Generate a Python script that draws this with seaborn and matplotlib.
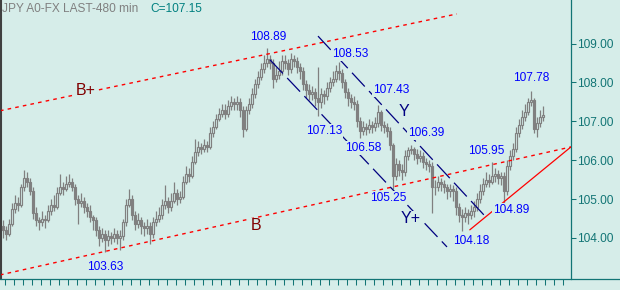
import numpy as np
import pandas as pd
import matplotlib
matplotlib.use("Agg")
import matplotlib.pyplot as plt
from matplotlib.lines import Line2D
import seaborn as sns

# ---------------- data ----------------
first_open = 104.3
closes = [
    104.2, 104.1, 104.35, 104.75, 104.9, 104.85, 105.3, 105.55, 105.45, 105.2,
    104.65, 104.45, 104.4, 104.5, 104.45, 104.7, 104.85, 104.8, 105.15, 105.3,
    105.25, 105.4, 105.45, 105.3, 105.0, 104.9, 104.95, 104.8, 104.7, 104.55,
    104.45, 104.2, 104.0, 104.1, 103.95, 104.05, 104.0, 104.1, 104.0, 104.05,
    104.4, 104.85, 105.0, 104.6, 104.35, 104.45, 104.3, 104.25, 104.3, 104.1,
    104.4, 104.5, 104.6, 104.85, 104.95, 104.8, 104.95, 105.15, 105.0, 105.05,
    105.45, 105.65, 105.6, 105.95, 106.2, 106.35, 106.3, 106.4, 106.35, 106.7,
    106.85, 107.05, 107.2, 107.3, 107.2, 107.4, 107.5, 107.45, 107.5, 107.3,
    106.8, 107.3, 107.45, 107.7, 107.95, 108.15, 108.35, 108.5, 108.6, 108.5,
    108.1, 108.2, 108.3, 108.55, 108.5, 108.35, 108.6, 108.55, 108.4, 108.3,
    107.95, 107.8, 107.7, 107.75, 107.6, 107.5, 107.7, 107.65, 107.85, 108.0,
    108.1, 108.3, 108.25, 108.0, 107.75, 107.6, 107.5, 107.45, 107.0, 106.75,
    106.85, 106.8, 106.9, 106.85, 106.95, 107.25, 106.9, 106.85, 106.75, 106.4,
    105.6, 105.9, 105.75, 105.7, 106.1, 106.25, 106.3, 106.15, 106.05, 106.1,
    105.95, 105.9, 105.85, 105.3, 105.3, 105.45, 105.4, 105.3, 105.2, 105.25,
    105.2, 104.8, 104.6, 104.55, 104.65, 104.6, 104.7, 104.8, 105.0, 105.2,
    105.4, 105.5, 105.45, 105.6, 105.65, 105.55, 105.6, 105.2, 105.85, 106.1,
    106.3, 106.7, 106.9, 107.1, 107.25, 107.5, 107.55, 106.8, 106.95, 107.1,
    107.15,
]
highs = [
    104.45, 104.3, 104.5, 104.9, 105.1, 105.05, 105.4, 105.75, 105.7, 105.55,
    105.3, 104.8, 104.55, 104.7, 104.6, 104.85, 105.0, 105.1, 105.3, 105.65,
    105.45, 105.6, 105.65, 105.55, 105.4, 105.1, 105.15, 105.05, 104.9, 104.85,
    104.6, 104.55, 104.3, 104.25, 104.2, 104.2, 104.15, 104.25, 104.2, 104.2,
    104.5, 105.0, 105.25, 105.1, 104.7, 104.65, 104.55, 104.4, 104.5, 104.4,
    104.55, 104.7, 104.8, 105.0, 105.35, 105.05, 105.15, 105.45, 105.25, 105.2,
    105.6, 105.85, 105.8, 106.1, 106.55, 106.5, 106.45, 106.55, 106.5, 106.85,
    107.0, 107.2, 107.35, 107.45, 107.45, 107.55, 107.65, 107.6, 107.65, 107.6,
    107.4, 107.4, 107.6, 107.85, 108.1, 108.3, 108.5, 108.7, 108.89, 108.7,
    108.6, 108.4, 108.55, 108.7, 108.7, 108.6, 108.75, 108.7, 108.65, 108.5,
    108.4, 108.05, 107.95, 107.9, 107.85, 108.4, 107.85, 107.8, 108.0, 108.15,
    108.3, 108.45, 108.53, 108.35, 108.1, 107.85, 107.7, 107.65, 107.55, 107.1,
    107.0, 106.95, 107.05, 107.0, 107.1, 107.43, 107.3, 107.0, 106.95, 106.85,
    106.45, 106.05, 106.0, 105.9, 106.25, 106.35, 106.39, 106.35, 106.3, 106.25,
    106.2, 106.05, 106.0, 105.95, 105.5, 105.6, 105.55, 105.5, 105.4, 105.4,
    105.35, 105.3, 104.9, 104.75, 104.8, 104.75, 104.85, 104.95, 105.15, 105.4,
    105.55, 105.7, 105.65, 105.95, 105.8, 105.75, 105.7, 105.7, 106.0, 106.25,
    106.45, 106.85, 107.05, 107.3, 107.45, 107.6, 107.78, 107.6, 107.1, 107.3,
    107.4,
]
lows = [
    104.0, 103.95, 104.05, 104.3, 104.65, 104.7, 104.8, 105.2, 105.3, 105.1,
    104.5, 104.3, 104.2, 104.3, 104.25, 104.4, 104.6, 104.7, 104.75, 105.1,
    105.1, 105.2, 105.3, 105.2, 104.85, 104.35, 104.8, 104.65, 104.55, 104.4,
    104.2, 104.05, 103.8, 103.9, 103.63, 103.8, 103.85, 103.9, 103.85, 103.7,
    103.95, 104.3, 104.8, 104.45, 104.2, 104.25, 104.1, 104.05, 104.1, 103.85,
    104.0, 104.3, 104.4, 104.5, 104.75, 104.65, 104.7, 104.9, 104.85, 104.9,
    105.0, 105.4, 105.45, 105.55, 105.9, 106.1, 106.15, 106.2, 106.2, 106.3,
    106.6, 106.8, 107.0, 107.1, 107.05, 107.1, 107.3, 107.3, 107.3, 107.1,
    106.6, 106.75, 107.2, 107.35, 107.6, 107.85, 108.05, 108.25, 108.4, 108.35,
    107.85, 108.0, 108.1, 108.2, 108.35, 108.2, 108.25, 108.4, 108.25, 108.1,
    107.8, 107.6, 107.55, 107.55, 107.4, 107.13, 107.35, 107.45, 107.55, 107.75,
    107.9, 108.0, 108.05, 107.85, 107.6, 107.4, 107.35, 107.3, 106.85, 106.58,
    106.65, 106.65, 106.7, 106.7, 106.75, 106.85, 106.75, 106.7, 106.6, 106.25,
    105.25, 105.5, 105.6, 105.5, 105.6, 106.0, 106.15, 106.0, 105.9, 105.95,
    105.8, 105.75, 105.7, 104.65, 105.1, 105.2, 105.2, 105.15, 105.0, 105.05,
    104.95, 104.6, 104.4, 104.18, 104.4, 104.35, 104.5, 104.55, 104.7, 104.9,
    105.1, 105.3, 105.3, 105.4, 105.45, 105.4, 105.35, 104.89, 105.1, 105.75,
    106.0, 106.2, 106.6, 106.8, 107.0, 107.15, 107.4, 106.7, 106.6, 106.85,
    107.0,
]

# trend lines (bar index, price)
upper_channel_x = [-1.0, 151.3]
upper_channel_y = [107.27, 109.76]
lower_channel_x = [-1.0, 189.3]
lower_channel_y = [103.05, 106.34]
support_x = [155.6, 189.3]
support_y = [104.21, 106.34]
wave_a_x = [89.0, 148.0]
wave_a_y = [108.58, 103.77]
wave_b_x = [105.0, 161.3]
wave_b_y = [109.19, 104.51]

# price labels
price_labels = ["108.89", "108.53", "107.43", "107.13", "106.58", "106.39",
                "105.25", "105.95", "104.89", "104.18", "107.78", "103.63"]
price_label_x = [88.3, 115.7, 129.3, 107.0, 120.0, 141.0,
                 128.3, 161.0, 169.3, 156.0, 176.0, 34.0]
price_label_y = [109.17, 108.73, 107.80, 106.75, 106.31, 106.70,
                 105.03, 106.24, 104.72, 103.92, 108.11, 103.25]

wave_labels = ["B+", "B", "Y", "Y+"]
wave_label_x = [27.7, 84.3, 133.7, 136.0]
wave_label_y = [107.78, 104.31, 107.24, 104.49]

y_ticks = [104, 105, 106, 107, 108, 109]
title_text = "JPY A0-FX LAST-480 min"
close_text = "C=107.15"

# ---------------- style ----------------
BG = "#d6ede9"
GRAY = "#808080"
TEAL = "#127575"
sns.set_style("white", {"axes.facecolor": BG, "figure.facecolor": BG})
plt.rcParams["font.family"] = ["Liberation Sans", "DejaVu Sans"]

W, H = 620, 290
fig = plt.figure(figsize=(W / 100, H / 100), dpi=100)
fig.patch.set_facecolor(BG)
ax = fig.add_axes([1 / W, 11 / H, 570 / W, 279 / H])
ax.set_facecolor(BG)

n = len(closes)
idx = np.arange(n)
opens = np.array([first_open] + closes[:-1])
cl = np.array(closes)
df = pd.DataFrame({"i": idx, "open": opens, "close": cl,
                   "high": highs, "low": lows})

# wicks
ax.vlines(df["i"], df["low"], df["high"], color=GRAY, lw=0.9, zorder=2)
# bodies
up = df[df["close"] >= df["open"]]
dn = df[df["close"] < df["open"]]
ax.bar(up["i"], np.maximum(up["close"] - up["open"], 0.02), bottom=up["open"],
       width=0.9, facecolor=BG, edgecolor=GRAY, linewidth=0.85, zorder=3)
ax.bar(dn["i"], dn["open"] - dn["close"], bottom=dn["close"],
       width=0.9, facecolor=GRAY, edgecolor=GRAY, linewidth=0.85, zorder=3)

# trend lines
red_dash = (0, (2.6, 3.0))
navy_dash = (0, (15, 5))
sns.lineplot(x=upper_channel_x, y=upper_channel_y, ax=ax, color="#ff0000",
             lw=1.0, linestyle=red_dash, zorder=4)
sns.lineplot(x=lower_channel_x, y=lower_channel_y, ax=ax, color="#ff0000",
             lw=1.0, linestyle=red_dash, zorder=4)
sns.lineplot(x=support_x, y=support_y, ax=ax, color="#ff0000",
             lw=0.9, zorder=4)
sns.lineplot(x=wave_a_x, y=wave_a_y, ax=ax, color="#000080",
             lw=0.9, linestyle=navy_dash, zorder=4)
sns.lineplot(x=wave_b_x, y=wave_b_y, ax=ax, color="#000080",
             lw=0.9, linestyle=navy_dash, zorder=4)

# labels
for t, x, y in zip(price_labels, price_label_x, price_label_y):
    ax.text(x, y, t, color="#0000ff", fontsize=8.6, ha="center", va="center",
            zorder=6, bbox=dict(facecolor=BG, edgecolor="none", pad=0.5))
for t, x, y in zip(wave_labels, wave_label_x, wave_label_y):
    col = "#800000" if t.startswith("B") else "#000080"
    ax.text(x, y, t, color=col, fontsize=11.5, ha="center", va="center",
            zorder=6, bbox=dict(facecolor=BG, edgecolor="none", pad=0.5))

# axes
ax.set_xlim(-2 / 3, 568 / 3)
ax.set_ylim(109 - (279 - 43.5) / 38.9, 109 + 43.5 / 38.9)
ax.yaxis.tick_right()
ax.set_yticks(y_ticks)
ax.set_yticklabels([f"{v:.2f}" for v in y_ticks])
ax.tick_params(axis="y", direction="out", length=3.6, width=0.75, color=TEAL,
               labelcolor=TEAL, labelsize=8.6, pad=1, right=True, left=False)
ax.set_xticks([(2 + 9 * k) / 3 for k in range(63)])
ax.tick_params(axis="x", direction="out", length=4.2, width=0.75, color=TEAL,
               labelbottom=False, bottom=True)
ax.set_xlabel("")
ax.set_ylabel("")
if ax.get_legend():
    ax.get_legend().remove()
ax.spines["top"].set_visible(False)
ax.spines["bottom"].set_visible(False)
ax.spines["right"].set_color(TEAL)
ax.spines["right"].set_linewidth(0.9)
ax.spines["left"].set_color("#404040")
ax.spines["left"].set_linewidth(1.5)

fig.add_artist(Line2D([0, 1], [11 / H, 11 / H], color=TEAL, lw=0.9,
                      transform=fig.transFigure))

fig.text(2 / W, 1 - 8.5 / H, title_text, color="#808080", fontsize=8.6,
         ha="left", va="center")
fig.text(150 / W, 1 - 8.5 / H, close_text, color="#008080", fontsize=8.6,
         ha="left", va="center")

fig.savefig("out.png", dpi=100, facecolor=BG)
